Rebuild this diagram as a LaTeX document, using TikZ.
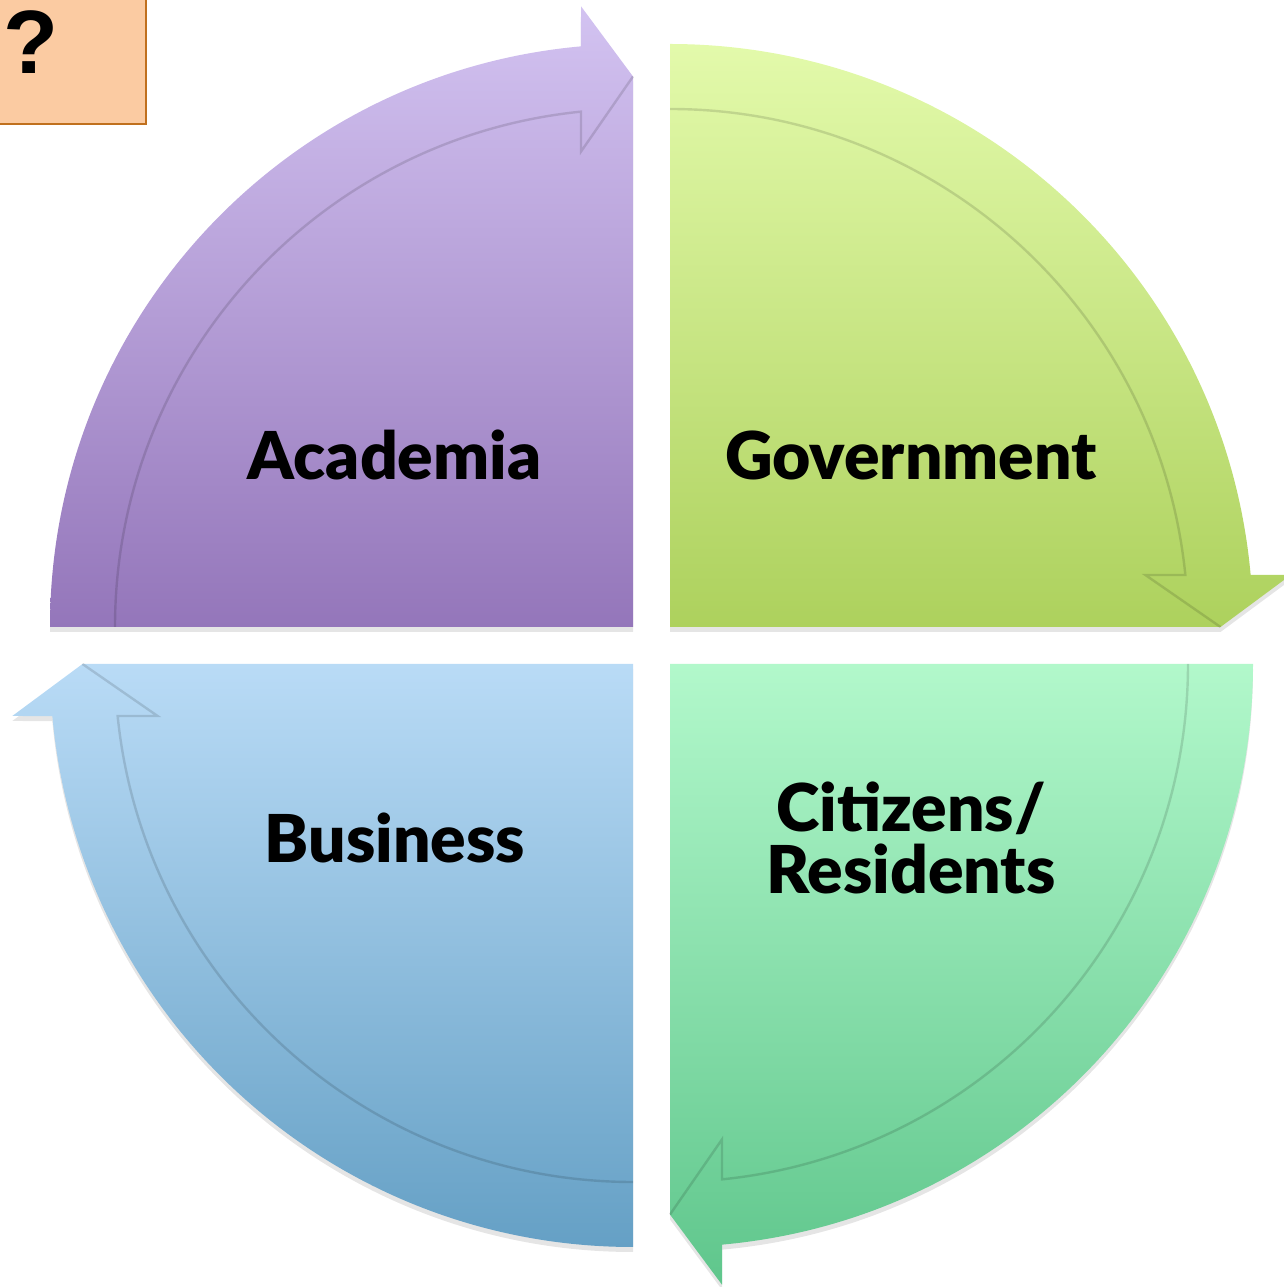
\documentclass[tikz,border=0pt]{standalone}
\usepackage{fontspec}
\setmainfont{Lato}[BoldFont={Lato Black}]
\newfontfamily\qfont{Liberation Sans}
\definecolor{tlTop}{HTML}{D3C3F1}
\definecolor{tlBot}{HTML}{9476BA}
\definecolor{trTop}{HTML}{E3FAAB}
\definecolor{trBot}{HTML}{ADD15D}
\definecolor{brTop}{HTML}{B2F8CB}
\definecolor{brBot}{HTML}{5FC68C}
\definecolor{blTop}{HTML}{B9DBF6}
\definecolor{blBot}{HTML}{65A0C5}
\definecolor{qFill}{HTML}{FBCBA2}
\definecolor{qBorder}{HTML}{C0701E}
\begin{document}
\begin{tikzpicture}[x=0.5pt,y=0.5pt,
  lbl/.style={font=\fontsize{33}{33}\selectfont\bfseries, text=black, align=center},
  bandedge/.style={draw=black, draw opacity=0.13, line width=1.2pt},
  softshadow/.style={fill=black, fill opacity=0.10}]
\useasboundingbox (0,0) rectangle (1284,1287);
\clip (0,0) rectangle (1284,1287);
% ---------- shadows ----------
\fill[softshadow, yshift=-2.5] (633,660) -- (50,660) arc[start angle=180, end angle=95.12, radius=583] -- (581,1280.7) -- (633,1210.5) -- cycle;
\fill[softshadow, yshift=-2.5] (670,660) -- (670,1243) arc[start angle=90, end angle=5.12, radius=583] -- (1290.7,712) -- (1220.5,660) -- cycle;
\fill[softshadow, yshift=-2.5] (670,623) -- (1253,623) arc[start angle=0, end angle=-84.88, radius=583] -- (722,2.3) -- (670,72.5) -- cycle;
\fill[softshadow, yshift=-2.5] (633,623) -- (633,40) arc[start angle=270, end angle=185.12, radius=583] -- (12.3,571) -- (82.5,623) -- cycle;
% ---------- Academia (top left) ----------
\shade[top color=tlTop, bottom color=tlBot] (633,660) -- (50,660) arc[start angle=180, end angle=95.12, radius=583] -- (581,1280.7) -- (633,1210.5) -- cycle;
\draw[bandedge] (115,660) arc[start angle=180, end angle=95.76, radius=518] -- (581,1135.4) -- (633,1210.5);
% ---------- Government (top right) ----------
\shade[top color=trTop, bottom color=trBot] (670,660) -- (670,1243) arc[start angle=90, end angle=5.12, radius=583] -- (1290.7,712) -- (1220.5,660) -- cycle;
\draw[bandedge] (670,1178) arc[start angle=90, end angle=5.76, radius=518] -- (1145.4,712) -- (1220.5,660);
% ---------- Citizens (bottom right) ----------
\shade[top color=brTop, bottom color=brBot] (670,623) -- (1253,623) arc[start angle=0, end angle=-84.88, radius=583] -- (722,2.3) -- (670,72.5) -- cycle;
\draw[bandedge] (1188,623) arc[start angle=0, end angle=-84.24, radius=518] -- (722,147.6) -- (670,72.5);
% ---------- Business (bottom left) ----------
\shade[top color=blTop, bottom color=blBot] (633,623) -- (633,40) arc[start angle=270, end angle=185.12, radius=583] -- (12.3,571) -- (82.5,623) -- cycle;
\draw[bandedge] (633,105) arc[start angle=270, end angle=185.76, radius=518] -- (157.6,571) -- (82.5,623);
% ---------- labels ----------
\node[lbl] (aca) at (394.5,832) {Academia};
\node[lbl] (gov) at (911,832) {Government};
\node[lbl] (bus) at (395,449) {Business};
\node[lbl, text width=300] (cit) at (911,449) {Citizens/\\[-2pt]Residents};
% ---------- question box ----------
\node[draw=qBorder, fill=qFill, line width=1pt, minimum width=152, minimum height=140, inner sep=0pt, anchor=south east] (qbox) at (147,1162) {};
\node[font=\fontsize{45}{45}\selectfont\qfont\bfseries, anchor=base, inner sep=0pt] (qmark) at (31,1213) {?};
\end{tikzpicture}
\end{document}
